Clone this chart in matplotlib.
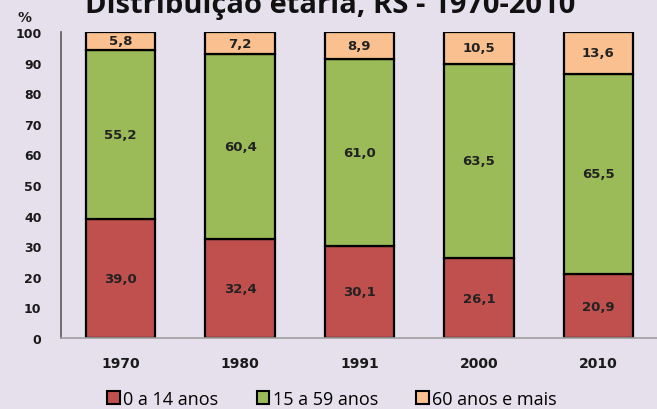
import matplotlib.pyplot as plt
from matplotlib.patches import Patch
import numpy as np

# data
anos = ['1970', '1980', '1991', '2000', '2010']
jovens = [39.0, 32.4, 30.1, 26.1, 20.9]
adultos = [55.2, 60.4, 61.0, 63.5, 65.5]
idosos = [5.8, 7.2, 8.9, 10.5, 13.6]
series_names = ['0 a 14 anos', '15 a 59 anos', '60 anos e mais']

bg = '#E5E0EC'
cores = ['#C0504D', '#9BBB59', '#FAC090']

plt.rcParams['font.family'] = ['DejaVu Sans']

fig = plt.figure(figsize=(6.57, 4.10), dpi=100, facecolor=bg)
ax = fig.add_axes([61 / 657, 71 / 410, 597 / 657, 306 / 410])
ax.set_facecolor(bg)

x = np.arange(len(anos))
bottom = np.zeros(len(anos))
for vals, cor in zip([jovens, adultos, idosos], cores):
    vals = np.array(vals)
    ax.bar(x, vals, 0.58, bottom=bottom, color=cor, edgecolor='black', linewidth=1.6)
    for xi, b, v in zip(x, bottom, vals):
        ax.text(xi, b + v / 2, f'{v:.1f}'.replace('.', ','), ha='center', va='center',
                fontsize=9.5, fontweight='bold', color='#222222')
    bottom += vals

ax.set_xlim(-0.5, len(anos) - 0.5)
ax.set_ylim(0, 100)
ax.set_yticks(range(0, 101, 10))
ax.set_xticks(x)
ax.set_xticklabels(anos)
ax.tick_params(axis='y', length=0, pad=14, labelsize=9, labelcolor='#1a1a1a')
ax.tick_params(axis='x', length=0, pad=13, labelsize=10, labelcolor='#1a1a1a')
for lab in ax.get_xticklabels() + ax.get_yticklabels():
    lab.set_fontweight('bold')

for s in ['top', 'right']:
    ax.spines[s].set_visible(False)
ax.spines['left'].set_color('#595959')
ax.spines['left'].set_linewidth(1.2)
ax.spines['bottom'].set_color('#A0A0A0')
ax.spines['bottom'].set_linewidth(1.2)

fig.text(330 / 657, 1 - 13 / 410, 'Distribuição etária, RS - 1970-2010', ha='center',
         va='baseline', fontsize=21, fontweight='bold', color='#111111',
         family=['Open Sans', 'DejaVu Sans'])
fig.text(25 / 657, 1 - 18 / 410, '%', ha='center', va='center', fontsize=10,
         fontweight='bold', color='#1a1a1a')

handles = [Patch(facecolor=c, edgecolor='black', linewidth=1.5) for c in cores]
fig.legend(handles, series_names, loc='center', bbox_to_anchor=(332 / 657, 1 - 400 / 410),
           ncol=3, frameon=False, prop={'family': ['Open Sans', 'DejaVu Sans'], 'size': 13},
           handlelength=0.7, handleheight=0.7, handletextpad=0.2, columnspacing=2.1)

fig.savefig('out.png', dpi=100, facecolor=bg)
